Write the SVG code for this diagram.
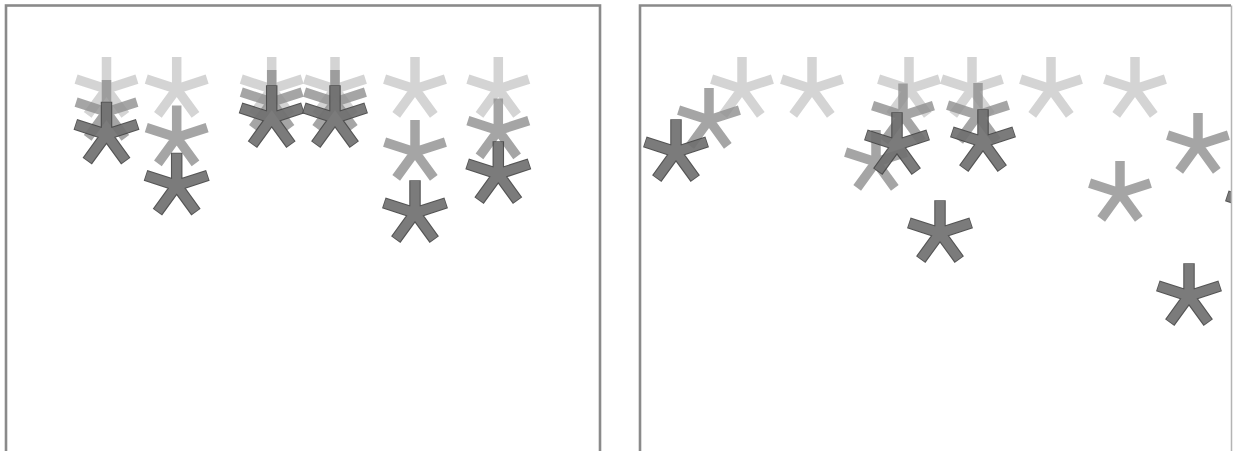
<svg xmlns="http://www.w3.org/2000/svg" xmlns:xlink="http://www.w3.org/1999/xlink" width="1233" height="451" viewBox="0 0 1233 451">
  <style>
    .frame { fill: none; stroke: #8a8a8a; stroke-width: 2.6; }
    .arm { fill: none; stroke-linecap: butt; stroke-linejoin: miter; }
    .L { stroke: #c6c6c6; stroke-width: 9.5; opacity: 0.75; }
    .M { stroke: #8f8f8f; stroke-width: 9.5; opacity: 0.8; }
    .D { opacity: 0.92; }
  </style>
  <defs>
    <path id="arms" class="arm" d="M0,0V-32M0,0L30.43,-9.89M0,0L18.81,25.89M0,0L-18.81,25.89M0,0L-30.43,-9.89"/>
    <path id="armsO" class="arm" d="M0,0V-32.8M0,0L31.19,-10.14M0,0L19.28,26.54M0,0L-19.28,26.54M0,0L-31.19,-10.14"/>
    <g id="dark">
      <use href="#armsO" stroke="#474747" stroke-width="11.5"/>
      <use href="#arms" stroke="#707070" stroke-width="9.3"/>
    </g>
    <clipPath id="clipR">
      <rect x="640" y="5" width="591" height="446"/>
    </clipPath>
  </defs>

  <rect width="1233" height="451" fill="#ffffff"/>

  <g id="panel-left">
    <rect class="frame" x="6" y="5.5" width="594" height="460"/>
    <g id="left-light">
      <use href="#arms" class="L" x="106.5" y="89"/>
      <use href="#arms" class="L" x="176.7" y="89"/>
      <use href="#arms" class="L" x="271.7" y="89"/>
      <use href="#arms" class="L" x="335" y="89"/>
      <use href="#arms" class="L" x="415" y="89"/>
      <use href="#arms" class="L" x="498.3" y="89"/>
    </g>
    <g id="left-medium">
      <use href="#arms" class="M" x="106.5" y="112"/>
      <use href="#arms" class="M" x="176.7" y="137.5"/>
      <use href="#arms" class="M" x="271.7" y="102"/>
      <use href="#arms" class="M" x="335" y="102"/>
      <use href="#arms" class="M" x="415" y="152"/>
      <use href="#arms" class="M" x="498.3" y="130.5"/>
    </g>
    <g id="left-dark">
      <use href="#dark" class="D" x="106.5" y="134.5"/>
      <use href="#dark" class="D" x="176.7" y="185.5"/>
      <use href="#dark" class="D" x="271.7" y="118"/>
      <use href="#dark" class="D" x="335" y="118"/>
      <use href="#dark" class="D" x="415" y="213"/>
      <use href="#dark" class="D" x="498.3" y="174"/>
    </g>
  </g>

  <g id="panel-right">
    <g clip-path="url(#clipR)">
      <g id="right-light">
        <use href="#arms" class="L" x="742" y="89"/>
        <use href="#arms" class="L" x="812" y="89"/>
        <use href="#arms" class="L" x="909" y="89"/>
        <use href="#arms" class="L" x="972" y="89"/>
        <use href="#arms" class="L" x="1051" y="89"/>
        <use href="#arms" class="L" x="1135" y="89"/>
      </g>
      <g id="right-medium">
        <use href="#arms" class="M" x="709" y="120"/>
        <use href="#arms" class="M" x="903" y="115.5"/>
        <use href="#arms" class="M" x="978" y="115"/>
        <use href="#arms" class="M" x="876" y="162"/>
        <use href="#arms" class="M" x="1198" y="145"/>
        <use href="#arms" class="M" x="1120" y="193"/>
      </g>
      <g id="right-dark">
        <use href="#dark" class="D" x="676" y="152"/>
        <use href="#dark" class="D" x="897" y="145"/>
        <use href="#dark" class="D" x="983" y="142"/>
        <use href="#dark" class="D" x="940" y="233"/>
        <use href="#dark" class="D" x="1189" y="296"/>
        <use href="#dark" class="D" x="1258" y="206"/>
      </g>
    </g>
    <path class="frame" d="M640,460V5.5H1231"/>
    <line x1="1231.5" y1="5.5" x2="1231.5" y2="451" stroke="#b4b4b4" stroke-width="1.5"/>
  </g>
</svg>
